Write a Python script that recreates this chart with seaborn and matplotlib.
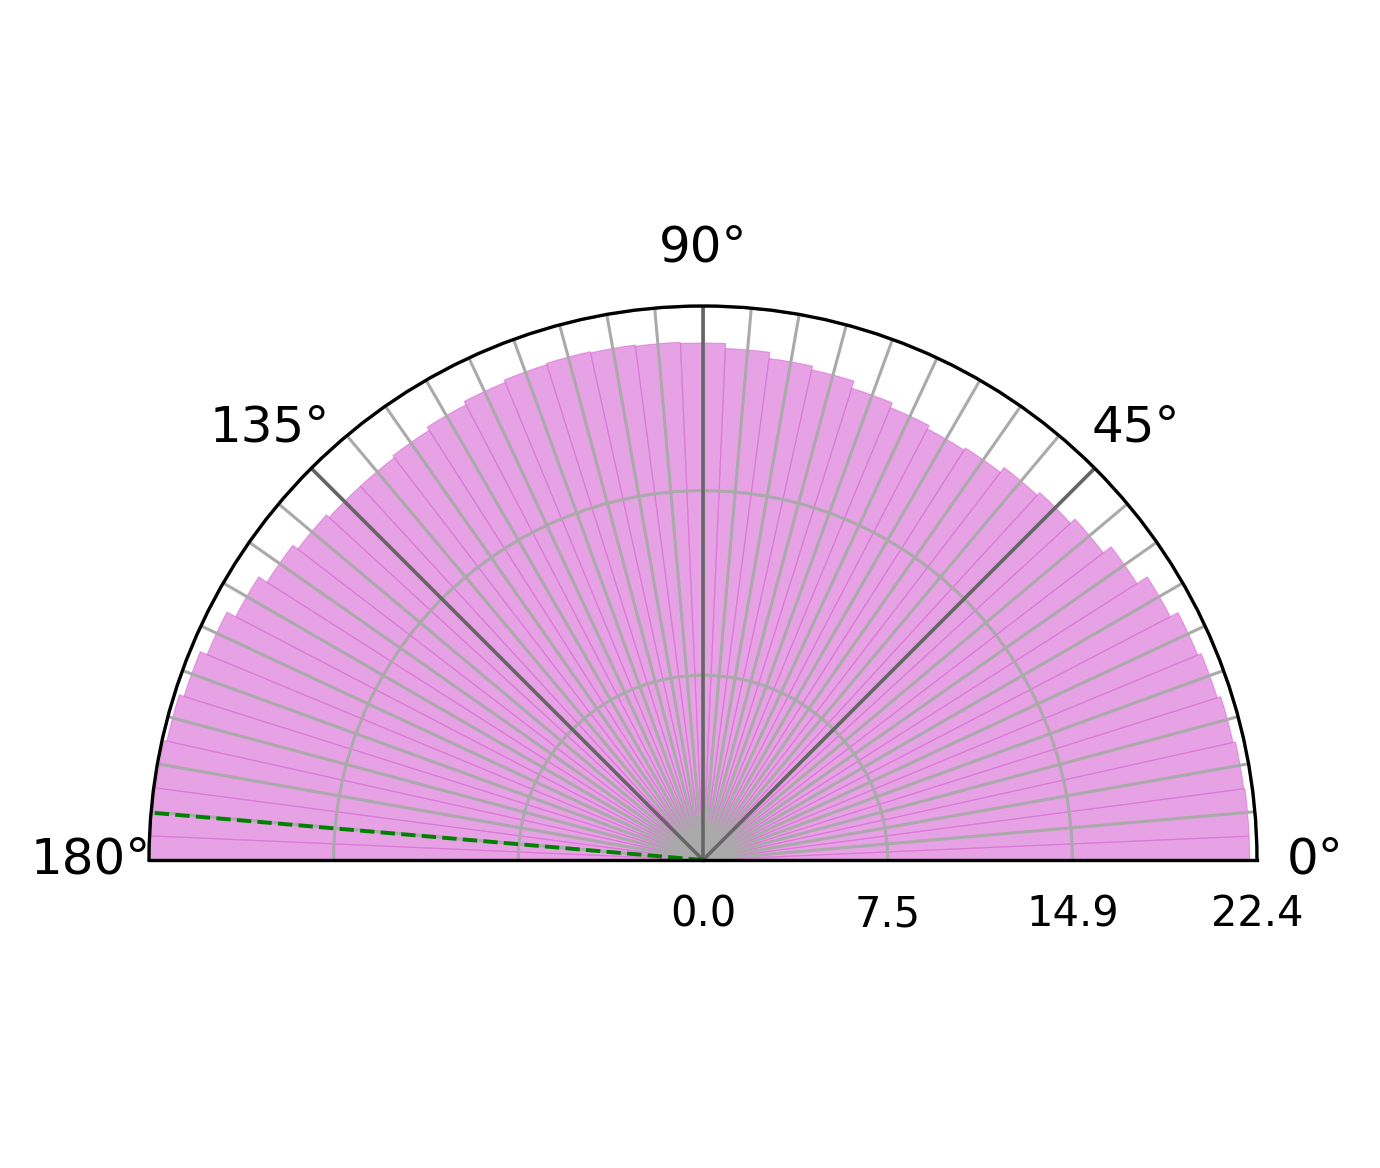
import numpy as np
import matplotlib
matplotlib.use("Agg")
import matplotlib.pyplot as plt
import seaborn as sns

# ---- data ----
angles_deg = [0, 5, 10, 15, 20, 25, 30, 35, 40, 45, 50, 55, 60, 65, 70, 75, 80, 85, 90,
              95, 100, 105, 110, 115, 120, 125, 130, 135, 140, 145, 150, 155, 160, 165,
              170, 175, 180]
values = [22.1, 22.1, 22.05, 21.95, 21.8, 21.65, 21.3, 20.8, 20.4, 20.15, 20.0, 19.75,
          19.65, 19.8, 20.0, 20.3, 20.45, 20.7, 20.9,
          20.95, 21.0, 21.05, 21.0, 20.9, 20.75, 20.6, 20.5, 20.5, 20.65, 20.9, 21.3,
          21.7, 22.0, 22.2, 22.3, 22.35, 22.4]
r_max = 22.4
mean_angle_deg = 175.1
major_angles = [45, 90, 135]
grid_angles = list(range(0, 181, 5))
labelled_angles = [0, 45, 90, 135, 180]

sns.set_theme(style="white")
plt.rcParams['font.family'] = ['DejaVu Sans']

W, H = 1380, 1168
cx, cy, R = 703, 860, 554
fig = plt.figure(figsize=(W / 200, H / 200), dpi=200)
# square box around the half-disc bounding box
mid_y = cy - R / 2
ax = fig.add_axes([(cx - R) / W, (H - (mid_y + R)) / H, 2 * R / W, 2 * R / H], projection='polar')
ax.set_thetamin(0)
ax.set_thetamax(180)

theta = np.deg2rad(angles_deg)
ax.bar(theta, values, width=np.deg2rad(5), color='orchid', alpha=0.65,
       edgecolor='orchid', linewidth=0.4, zorder=1)

ax.set_ylim(0, r_max)
rt = np.linspace(0, r_max, 4)
ax.set_yticks(rt)
ax.set_yticklabels([f"{v:.1f}" for v in rt])
ax.tick_params(axis='y', labelsize=15, labelcolor='black', pad=6)

ax.set_xticks(np.deg2rad(grid_angles))
ax.set_xticklabels([f"{a}°" if a in labelled_angles else "" for a in grid_angles])
ax.tick_params(axis='x', labelsize=18, labelcolor='black', pad=8)

ax.grid(True, color='#aaaaaa', linewidth=1.1)
ax.set_axisbelow(False)

for a in major_angles:
    ax.plot([np.deg2rad(a)] * 2, [0, r_max], color='#666666', lw=1.3, zorder=3)
ax.plot([np.deg2rad(mean_angle_deg)] * 2, [0, r_max], color='green', ls='--', lw=1.4, zorder=4)

for s in ax.spines.values():
    s.set_color('black')
    s.set_linewidth(1.2)
    s.set_zorder(10)

fig.savefig('out.png', dpi=200)
